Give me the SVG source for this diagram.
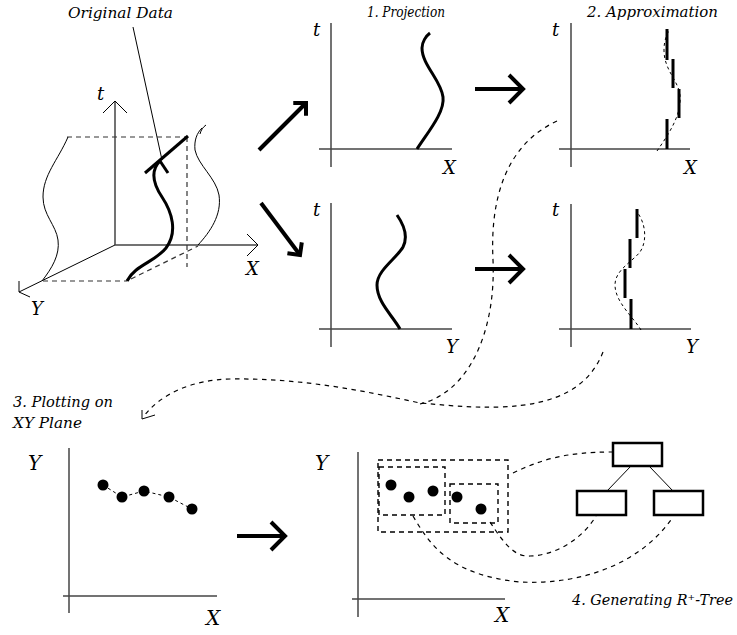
<svg xmlns="http://www.w3.org/2000/svg" width="737" height="635" viewBox="0 0 737 635" font-family="'DejaVu Serif', 'Liberation Serif', serif">
  <style>
    text { font-style: italic; fill: #000; }
    .title { font-size: 15px; }
    .lbl { font-size: 18px; }
    .lblb { font-size: 20px; }
    .axis { fill: none; stroke: #444; stroke-width: 1.5; }
    .thin { fill: none; stroke: #000; stroke-width: 1; }
    .guide { fill: none; stroke: #333; stroke-width: 1.2; stroke-dasharray: 5 4; }
    .thick { fill: none; stroke: #000; stroke-width: 3; stroke-linecap: butt; }
    .seg { fill: none; stroke: #000; stroke-width: 3; }
    .trace { fill: none; stroke: #000; stroke-width: 1; stroke-dasharray: 3 3; }
    .link { fill: none; stroke: #000; stroke-width: 1.2; stroke-dasharray: 4.5 4.5; }
    .box { fill: none; stroke: #000; stroke-width: 1.4; stroke-dasharray: 5 4; }
    .node { fill: #fff; stroke: #000; stroke-width: 2.5; }
    .big { fill: none; stroke: #000; stroke-width: 4; }
    .dot { fill: #000; }
  </style>
  <defs>
    <marker id="chev" markerUnits="userSpaceOnUse" viewBox="-20 -20 30 40" markerWidth="30" markerHeight="40" refX="0" refY="0" orient="auto" overflow="visible">
      <path d="M-14,-14 L0,0 L-14,14" fill="none" stroke="#000" stroke-width="4"/>
    </marker>
    <marker id="chevS" markerUnits="userSpaceOnUse" viewBox="-15 -15 20 30" markerWidth="20" markerHeight="30" refX="0" refY="0" orient="auto" overflow="visible">
      <path d="M-9,-9 L0,0 L-9,9" fill="none" stroke="#000" stroke-width="4"/>
    </marker>
  </defs>

  <!-- 3D view of the original trajectory -->
  <g id="original-data">
    <text class="title" x="68" y="18" textLength="105" lengthAdjust="spacingAndGlyphs">Original Data</text>
    <line class="thin" x1="133" y1="27" x2="162" y2="160"/>
    <!-- axes -->
    <line class="axis" x1="115" y1="101" x2="115" y2="245" stroke="#333"/>
    <polyline class="thin" points="103,113 115,101 127,113"/>
    <line class="axis" x1="115" y1="245" x2="258" y2="245" stroke="#333"/>
    <polyline class="thin" points="247,234 258,245 247,256"/>
    <line class="thin" x1="115" y1="245" x2="19" y2="292"/>
    <polyline class="thin" points="19,281 19,292 30,297"/>
    <text class="lbl" x="97" y="100">t</text>
    <text class="lbl" x="246" y="275">X</text>
    <text class="lbl" x="31" y="315">Y</text>
    <!-- guide lines -->
    <line class="guide" x1="67" y1="137" x2="188" y2="137"/>
    <line class="guide" x1="187" y1="137" x2="187" y2="267"/>
    <line class="guide" x1="43" y1="281" x2="127" y2="281"/>
    <line class="guide" x1="131" y1="279" x2="198" y2="246"/>
    <!-- projections on the walls -->
    <path class="thin" d="M42,281 C52,268 60,255 58,240 C56,225 43,215 43,197 C43,175 58,160 68,137"/>
    <path class="thin" d="M198,245 C210,232 222,215 219,195 C216,178 198,165 195,150 C194,140 197,133 202,128"/>
    <path class="thin" d="M200,134 C201,130 203,127 206,125" stroke="#888"/>
    <!-- the trajectory itself -->
    <path class="thick" d="M127,281 C135,265 155,262 166,248 C178,232 172,212 162,197 C152,182 151,170 160,161"/>
    <line class="thick" x1="145" y1="173" x2="188" y2="136"/>
    <line class="thick" x1="160" y1="161" x2="168" y2="173"/>
  </g>

  <!-- 1. Projection: t over X -->
  <g id="projection-x">
    <text class="title" x="367" y="17" textLength="78" lengthAdjust="spacingAndGlyphs">1. Projection</text>
    <line class="axis" x1="331" y1="23" x2="331" y2="167"/>
    <line class="axis" x1="319" y1="149" x2="452" y2="149"/>
    <text class="lbl" x="313" y="36">t</text>
    <text class="lbl" x="443" y="174">X</text>
    <path class="thick" d="M417,149 C428,132 445,112 443,97 C441,80 422,65 422,48 C422,42 426,36 430,33"/>
  </g>

  <!-- 1. Projection: t over Y -->
  <g id="projection-y">
    <line class="axis" x1="331" y1="203" x2="331" y2="347"/>
    <line class="axis" x1="319" y1="329" x2="452" y2="329"/>
    <text class="lbl" x="313" y="216">t</text>
    <text class="lbl" x="446" y="353">Y</text>
    <path class="thick" d="M400,329 C392,315 377,302 377,285 C377,270 397,258 403,247 C408,237 404,225 397,215"/>
  </g>

  <!-- 2. Approximation: t over X -->
  <g id="approximation-x">
    <text class="title" x="587" y="17" textLength="131" lengthAdjust="spacingAndGlyphs">2. Approximation</text>
    <line class="axis" x1="571" y1="23" x2="571" y2="167"/>
    <line class="axis" x1="559" y1="149" x2="690" y2="149"/>
    <text class="lbl" x="552" y="36">t</text>
    <text class="lbl" x="684" y="174">X</text>
    <path class="trace" d="M657,151 C668,135 682,115 680,95 C678,80 664,70 664,50 C664,40 667,35 669,30"/>
    <line class="seg" x1="667" y1="29" x2="667" y2="60"/>
    <line class="seg" x1="673" y1="59" x2="673" y2="88"/>
    <line class="seg" x1="679" y1="89" x2="679" y2="118"/>
    <line class="seg" x1="667" y1="119" x2="667" y2="149"/>
  </g>

  <!-- 2. Approximation: t over Y -->
  <g id="approximation-y">
    <line class="axis" x1="571" y1="204" x2="571" y2="347"/>
    <line class="axis" x1="559" y1="329" x2="691" y2="329"/>
    <text class="lbl" x="552" y="216">t</text>
    <text class="lbl" x="686" y="353">Y</text>
    <path class="trace" d="M641,330 C634,318 615,302 615,285 C615,270 632,262 640,252 C648,240 645,222 637,212"/>
    <line class="seg" x1="637" y1="209" x2="637" y2="238"/>
    <line class="seg" x1="630" y1="239" x2="630" y2="268"/>
    <line class="seg" x1="625" y1="269" x2="625" y2="298"/>
    <line class="seg" x1="631" y1="299" x2="631" y2="329"/>
  </g>

  <!-- 3. Plotting on the XY plane -->
  <g id="xy-plane">
    <text class="title" x="13" y="407" textLength="100" lengthAdjust="spacingAndGlyphs">3. Plotting on</text>
    <text class="title" x="13" y="428" textLength="69" lengthAdjust="spacingAndGlyphs">XY Plane</text>
    <line class="axis" x1="69" y1="448" x2="69" y2="613" stroke="#111" stroke-width="1.2"/>
    <line class="axis" x1="63" y1="596" x2="217" y2="596"/>
    <text class="lblb" x="28" y="470">Y</text>
    <text class="lblb" x="206" y="625">X</text>
    <polyline class="trace" points="103,485 122,497 144,491 169,497 192,509"/>
    <circle class="dot" cx="103" cy="485" r="5.5"/>
    <circle class="dot" cx="122" cy="497" r="5.5"/>
    <circle class="dot" cx="144" cy="491" r="5.5"/>
    <circle class="dot" cx="169" cy="497" r="5.5"/>
    <circle class="dot" cx="192" cy="509" r="5.5"/>
  </g>

  <!-- 4. Points grouped into bounding boxes -->
  <g id="bounding-boxes">
    <line class="axis" x1="358" y1="452" x2="358" y2="617" stroke="#111" stroke-width="1.2"/>
    <line class="axis" x1="352" y1="599" x2="505" y2="599" stroke="#111" stroke-width="1.2"/>
    <text class="lblb" x="315" y="470">Y</text>
    <text class="lblb" x="495" y="622">X</text>
    <rect class="box" x="378" y="460" width="130" height="72"/>
    <rect class="box" x="379" y="467" width="66" height="48"/>
    <rect class="box" x="450" y="484" width="48" height="39"/>
    <circle class="dot" cx="391" cy="485" r="5.5"/>
    <circle class="dot" cx="409" cy="497" r="5.5"/>
    <circle class="dot" cx="433" cy="491" r="5.5"/>
    <circle class="dot" cx="457" cy="497" r="5.5"/>
    <circle class="dot" cx="481" cy="509" r="5.5"/>
  </g>

  <!-- R+-tree -->
  <g id="rtree">
    <line class="thin" x1="631" y1="466" x2="607" y2="491" stroke-width="2.5"/>
    <line class="thin" x1="649" y1="466" x2="673" y2="491" stroke-width="2.5"/>
    <rect id="tree-root" class="node" x="613" y="443" width="49" height="23"/>
    <rect id="tree-left" class="node" x="577" y="491" width="49" height="24"/>
    <rect id="tree-right" class="node" x="654" y="491" width="49" height="24"/>
    <text x="733" y="605" font-size="14" text-anchor="end" textLength="161" lengthAdjust="spacingAndGlyphs">4. Generating R⁺-Tree</text>
  </g>

  <!-- connectors -->
  <g id="connectors">
    <line class="big" x1="259" y1="150" x2="306" y2="103" marker-end="url(#chevS)"/>
    <line class="big" x1="261" y1="203" x2="300" y2="255" marker-end="url(#chevS)"/>
    <line class="big" x1="475" y1="89" x2="523" y2="89" marker-end="url(#chev)"/>
    <line class="big" x1="475" y1="269" x2="523" y2="269" marker-end="url(#chev)"/>
    <line class="big" x1="237" y1="536" x2="285" y2="536" marker-end="url(#chev)"/>
    <path class="link" d="M557,121 C505,145 490,200 493,260 C496,330 470,392 420,404"/>
    <path class="link" d="M603,352 C590,385 560,405 500,407 C470,408 445,405 420,403 C360,390 300,378 230,379 C190,380 160,395 144,416"/>
    <polyline class="thin" points="142,410 142,419 155,415"/>
    <path class="link" d="M513,473 C540,460 565,452 612,452"/>
    <path class="link" d="M490,522 C505,545 515,557 530,556 C560,555 585,535 596,516"/>
    <path class="link" d="M413,516 C430,545 450,575 520,582 C580,585 640,565 673,517"/>
  </g>
</svg>
